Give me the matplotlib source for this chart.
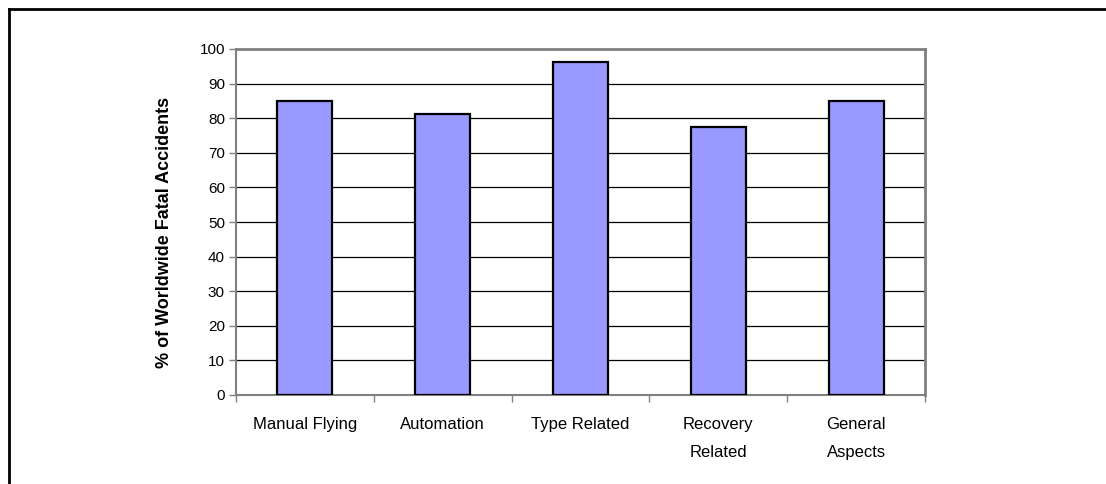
import matplotlib
matplotlib.use("Agg")
import matplotlib.pyplot as plt
from matplotlib.lines import Line2D
import numpy as np

categories = ["Manual Flying", "Automation", "Type Related", "Recovery\nRelated", "General\nAspects"]
values = [85.0, 81.1, 96.2, 77.5, 85.0]
yticks = list(range(0, 101, 10))

plt.rcParams['font.family'] = ['Liberation Sans', 'DejaVu Sans']

fig = plt.figure(figsize=(11.06, 4.84), dpi=100)
ax = fig.add_axes([236/1106, 1-395/484, (925-236)/1106, (395-49)/484])

x = np.arange(len(categories))
ax.bar(x, values, width=0.4, color='#9999FF', edgecolor='black', linewidth=1.6, zorder=3)

ax.set_xlim(-0.5, len(categories)-0.5)
ax.set_ylim(0, 100)
ax.set_yticks(yticks)
ax.set_yticklabels([str(v) for v in yticks], fontsize=11)
ax.yaxis.grid(True, color='black', linewidth=0.9, zorder=0)
ax.set_axisbelow(True)

ax.set_xticks(x)
ax.set_xticklabels(categories, fontsize=12, linespacing=2.1, va='top')
ax.set_xticks(np.arange(len(categories)+1)-0.5, minor=True)
ax.tick_params(axis='x', which='major', length=0, pad=15.5)
ax.tick_params(axis='x', which='minor', length=5, width=1, color='#808080', direction='out')
ax.tick_params(axis='y', length=5, width=1, color='#808080', direction='out', pad=3)

for s in ['left', 'bottom']:
    ax.spines[s].set_color('#808080')
    ax.spines[s].set_linewidth(1.5)
for s in ['top', 'right']:
    ax.spines[s].set_color('#808080')
    ax.spines[s].set_linewidth(2)

ax.set_ylabel('% of Worldwide Fatal Accidents', fontsize=13, fontweight='bold')
ax.yaxis.set_label_coords((173-236)/(925-236), (395-232)/(395-49))

# outer frame (top and left edges)
fig.add_artist(Line2D([9/1106, 1.0], [1-9/484, 1-9/484], transform=fig.transFigure, color='black', linewidth=2))
fig.add_artist(Line2D([9/1106, 9/1106], [1-9/484, 0.0], transform=fig.transFigure, color='black', linewidth=2))

fig.savefig('out.png', dpi=100)
